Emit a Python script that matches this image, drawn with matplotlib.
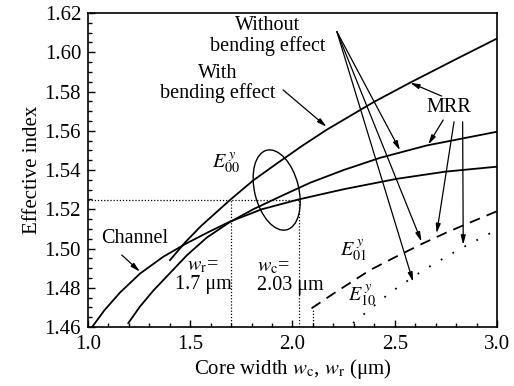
import matplotlib
matplotlib.use("Agg")
import matplotlib.pyplot as plt
from matplotlib.patches import Ellipse
from matplotlib.transforms import ScaledTranslation
from matplotlib.ticker import MultipleLocator

plt.rcParams['font.family'] = ['Liberation Serif', 'DejaVu Serif']
plt.rcParams['mathtext.fontset'] = 'stix'

# channel waveguide E00
channel_w = [1.02, 1.08, 1.156, 1.254, 1.368, 1.483, 1.597, 1.694, 1.85, 2.03, 2.25, 2.509, 2.75, 3.0]
channel_n = [1.460, 1.4685, 1.4775, 1.4872, 1.4958, 1.5027, 1.5088, 1.5137, 1.5200, 1.5250, 1.5302, 1.5355, 1.5392, 1.5417]

# MRR E00 with bending effect
mrr_bend_w = [1.401, 1.474, 1.55, 1.694, 1.808, 1.922, 2.05, 2.167, 2.395, 2.575, 2.8, 3.0]
mrr_bend_n = [1.4941, 1.5030, 1.5112, 1.5247, 1.5347, 1.5432, 1.5525, 1.5605, 1.5745, 1.5845, 1.5965, 1.6070]

# MRR E00 without bending effect
mrr_w = [1.197, 1.254, 1.319, 1.401, 1.483, 1.58, 1.694, 1.808, 1.94, 2.086, 2.25, 2.428, 2.656, 3.0]
mrr_n = [1.462, 1.4704, 1.4785, 1.4875, 1.4965, 1.5055, 1.5135, 1.5200, 1.5265, 1.5335, 1.5400, 1.5462, 1.5525, 1.5595]

# E01 and E10 modes
e01_w = [2.093, 2.2, 2.379, 2.5, 2.64, 2.75, 2.851, 3.0]
e01_n = [1.4695, 1.4770, 1.4890, 1.4955, 1.5027, 1.5080, 1.5125, 1.5190]
e10_w = [2.296, 2.355, 2.477, 2.64, 2.819, 2.982, 3.0]
e10_n = [1.462, 1.467, 1.4775, 1.489, 1.4998, 1.5086, 1.5095]

wr, wc, n_match = 1.7, 2.03, 1.5247
e01_cut = 2.10

fig = plt.figure(figsize=(5.14, 3.86), dpi=100)
ax = fig.add_axes([0.1712, 0.1528, 0.7957, 0.8135])

lw = 1.3
ax.plot(channel_w, channel_n, color='k', lw=lw)
ax.plot(mrr_bend_w, mrr_bend_n, color='k', lw=lw)
ax.plot(mrr_w, mrr_n, color='k', lw=lw)
ax.plot(e01_w, e01_n, color='k', lw=lw, linestyle=(0, (6, 4)))
ax.plot(e10_w, e10_n, color='k', lw=lw, linestyle=(0, (1, 6.5)))

# matching lines
dot = dict(color='k', lw=0.9, linestyle=(0, (1, 1.5)))
ax.plot([1.0, wc], [n_match, n_match], **dot)
ax.plot([wr, wr], [1.46, n_match], **dot)
ax.plot([wc, wc], [1.46, n_match], **dot)
ax.plot([e01_cut, e01_cut], [1.46, 1.469], **dot)

# ellipse around E00 crossing
trans = fig.dpi_scale_trans + ScaledTranslation(1.9227, 1.5298, ax.transData)
ax.add_patch(Ellipse((0, 0), 0.44, 0.82, angle=14, transform=trans,
                     fill=False, ec='k', lw=1.0))

fs = 14.5
ax.text(1.880, 1.6083, 'Without\nbending effect', ha='center', va='center',
        ma='center', fontsize=fs, linespacing=1.05)
ax.text(1.636, 1.5840, 'With\nbending effect', ha='center', va='center',
        ma='center', fontsize=fs, linespacing=1.05)
ax.text(2.765, 1.5716, 'MRR', ha='center', va='center', fontsize=fs)
ax.text(1.230, 1.5053, 'Channel', ha='center', va='center', fontsize=fs)
ax.text(1.675, 1.5436, r'$E_{00}^{\,y}$', ha='center', va='center', fontsize=fs)
ax.text(2.300, 1.4992, r'$E_{01}^{\,y}$', ha='center', va='center', fontsize=fs)
ax.text(2.340, 1.4763, r'$E_{10}^{\,y}$', ha='center', va='center', fontsize=fs)
ax.text(1.562, 1.4865, '$w_{\\mathrm{r}}$=\n1.7 \u03bcm', ha='center', va='center',
        ma='center', fontsize=fs, linespacing=1.0)
ax.text(1.826, 1.4860, '$w_{\\mathrm{c}}$=\n2.03 \u03bcm', ha='left', va='center',
        ma='left', fontsize=fs, linespacing=1.0)

arrow = dict(arrowstyle='-|>,head_length=0.55,head_width=0.14', lw=0.9,
             color='k', shrinkA=0, shrinkB=0)

def arr(tail, tip):
    ax.annotate('', xy=tip, xytext=tail, arrowprops=arrow)

# without bending effect
arr((2.217, 1.6105), (2.526, 1.5500))
arr((2.217, 1.6105), (2.631, 1.5035))
arr((2.217, 1.6105), (2.590, 1.4830))
# with bending effect
arr((1.954, 1.5808), (2.167, 1.5620))
# MRR
arr((2.729, 1.5777), (2.575, 1.5845))
arr((2.737, 1.5655), (2.664, 1.5530))
arr((2.790, 1.5646), (2.705, 1.5077))
arr((2.832, 1.5646), (2.835, 1.5018))
# channel
arr((1.165, 1.4967), (1.254, 1.4882))

ax.set_xlim(1.0, 3.0)
ax.set_ylim(1.46, 1.62)
ax.xaxis.set_major_locator(MultipleLocator(0.5))
ax.xaxis.set_minor_locator(MultipleLocator(0.1))
ax.yaxis.set_major_locator(MultipleLocator(0.02))
ax.yaxis.set_minor_locator(MultipleLocator(0.005))
ax.xaxis.set_major_formatter(plt.FormatStrFormatter('%.1f'))
ax.yaxis.set_major_formatter(plt.FormatStrFormatter('%.2f'))
ax.tick_params(which='both', direction='in', top=False, right=False, labelsize=15, width=1.0)
ax.tick_params(which='major', length=5)
ax.tick_params(which='minor', length=3)
ax.tick_params(axis='x', which='major', pad=6)
ax.tick_params(axis='y', which='major', pad=5)
for s in ax.spines.values():
    s.set_linewidth(1.2)

ax.set_xlabel('Core width $w_{\\mathrm{c}}$, $w_{\\mathrm{r}}$ (\u03bcm)', fontsize=15, labelpad=2)
ax.set_ylabel('Effective index', fontsize=15, labelpad=2)

fig.savefig('out.png', dpi=100)
